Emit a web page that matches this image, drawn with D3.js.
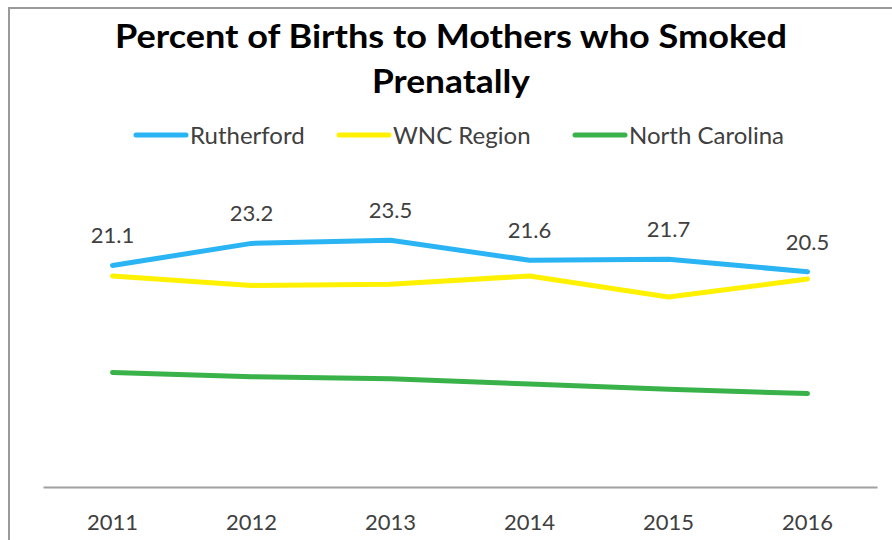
<!DOCTYPE html>
<html>
<head>
<meta charset="utf-8">
<script src="https://cdn.jsdelivr.net/npm/d3@7"></script>
<style>
  html, body { margin: 0; padding: 0; background: #fff; }
  svg { display: block; }
</style>
</head>
<body>
<svg id="chart" width="892" height="540"></svg>
<script>
const years = ["2011", "2012", "2013", "2014", "2015", "2016"];
const rutherford = [21.1, 23.2, 23.5, 21.6, 21.7, 20.5];
const wncRegion = [20.1, 19.2, 19.3, 20.1, 18.1, 19.8];
const northCarolina = [10.9, 10.5, 10.3, 9.8, 9.3, 8.9];
const seriesNames = ["Rutherford", "WNC Region", "North Carolina"];
const seriesColors = ["#2AB4F4", "#FFF100", "#39B24A"];
const titleLines = ["Percent of Births to Mothers who Smoked", "Prenatally"];

const series = [
  { name: seriesNames[0], values: rutherford, color: seriesColors[0], labels: true },
  { name: seriesNames[1], values: wncRegion, color: seriesColors[1], labels: false },
  { name: seriesNames[2], values: northCarolina, color: seriesColors[2], labels: false }
];

const svg = d3.select("#chart");
const font = "Lato, 'Open Sans', sans-serif";

// outer border (cropped at right/bottom)
svg.append("rect")
  .attr("x", 9).attr("y", 8).attr("width", 920).attr("height", 600)
  .attr("fill", "none").attr("stroke", "#9a9a9a").attr("stroke-width", 2);

// title
const titleWidths = [672, 158];
const titleY = [48, 93];
svg.append("g").selectAll("text")
  .data(titleLines)
  .join("text")
  .attr("x", 451).attr("y", (d, i) => titleY[i])
  .attr("text-anchor", "middle")
  .attr("font-family", font).attr("font-weight", 700)
  .attr("font-size", 33).attr("fill", "#000")
  .attr("textLength", (d, i) => titleWidths[i])
  .attr("lengthAdjust", "spacingAndGlyphs")
  .text(d => d);

// scales
const x = d3.scaleBand().domain(years).range([43, 877]);
const y = d3.scaleLinear().domain([0, 30]).range([487, 172]);
const cx = d => x(d) + x.bandwidth() / 2;

// axis
const axis = svg.append("g")
  .attr("transform", "translate(0,487)")
  .call(d3.axisBottom(x).tickSize(0).tickPadding(27));
axis.select(".domain").attr("stroke", "#a0a0a0").attr("stroke-width", 2);
axis.selectAll("text")
  .attr("font-family", font).attr("font-size", 22).attr("fill", "#404040");

// lines
const line = d3.line().x((d, i) => cx(years[i])).y(d => y(d));
series.forEach(s => {
  svg.append("path")
    .datum(s.values)
    .attr("d", line)
    .attr("fill", "none")
    .attr("stroke", s.color)
    .attr("stroke-width", 5)
    .attr("stroke-linejoin", "round")
    .attr("stroke-linecap", "round");
});

// data labels
series.filter(s => s.labels).forEach(s => {
  svg.append("g").selectAll("text")
    .data(s.values)
    .join("text")
    .attr("x", (d, i) => cx(years[i]))
    .attr("y", d => y(d) - 22)
    .attr("text-anchor", "middle")
    .attr("font-family", font).attr("font-size", 22).attr("fill", "#404040")
    .text(d => d.toFixed(1));
});

// legend
const legendX = [136, 339, 575];
const legend = svg.append("g");
series.forEach((s, i) => {
  const g = legend.append("g").attr("transform", `translate(${legendX[i]},135)`);
  g.append("line").attr("x1", 0).attr("x2", 50).attr("y1", 0).attr("y2", 0)
    .attr("stroke", s.color).attr("stroke-width", 5).attr("stroke-linecap", "round");
  g.append("text").attr("x", 54).attr("y", 8.5)
    .attr("font-family", font).attr("font-size", 24).attr("fill", "#404040")
    .text(s.name);
});
</script>
</body>
</html>
